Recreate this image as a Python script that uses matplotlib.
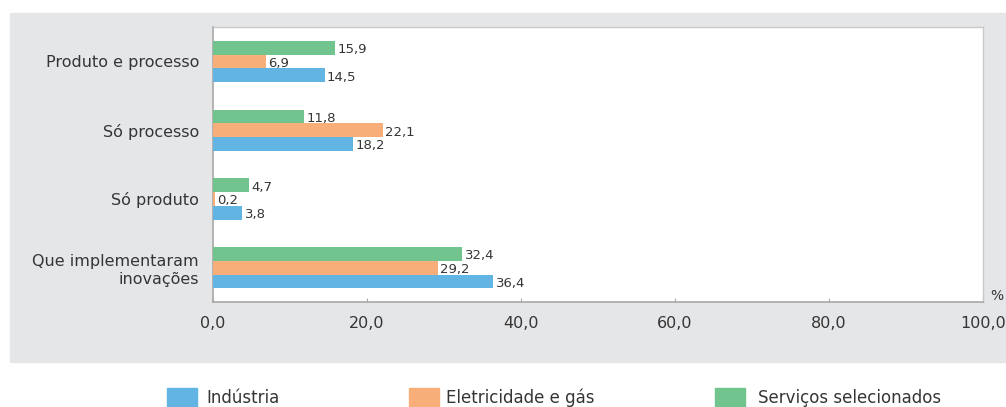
import numpy as np
import matplotlib
matplotlib.use("Agg")
import matplotlib.pyplot as plt
import matplotlib.patches as mpatches

plt.rcParams["font.family"] = ["DejaVu Sans"]

# ── Data ──────────────────────────────────────────────────────────────────────
categories = ["Produto e processo", "Só processo", "Só produto",
              "Que implementaram\ninovações"]
industria = [14.5, 18.2, 3.8, 36.4]
eletricidade = [6.9, 22.1, 0.2, 29.2]
servicos = [15.9, 11.8, 4.7, 32.4]
series_labels = ["Indústria", "Eletricidade e gás", "Serviços selecionados"]
xticks = [0, 20, 40, 60, 80, 100]

COLORS = {"ind": "#62b4e3", "ele": "#f8ae78", "ser": "#72c48e"}
TEXT = "#353535"
PANEL = "#e5e6e8"


def fmt(v):
    return f"{v:.1f}".replace(".", ",")


fig = plt.figure(figsize=(10.06, 4.07), dpi=100)
W, H = 1006, 407

# grey panel behind the chart
fig.patches.append(mpatches.Rectangle((10 / W, 1 - 362 / H), 1 - 10 / W, (362 - 13) / H,
                                      transform=fig.transFigure, color=PANEL, zorder=-10))

ax = fig.add_axes([213 / W, 1 - 302 / H, 770 / W, 275 / H])
ax.set_facecolor("white")

y = np.arange(len(categories))
h = 0.2
bars_ser = ax.barh(y - h, servicos, height=h, color=COLORS["ser"], zorder=3)
bars_ele = ax.barh(y, eletricidade, height=h, color=COLORS["ele"], zorder=3)
bars_ind = ax.barh(y + h, industria, height=h, color=COLORS["ind"], zorder=3)

for bars, vals in ((bars_ser, servicos), (bars_ele, eletricidade), (bars_ind, industria)):
    for bar, v in zip(bars, vals):
        ax.text(v + 0.3, bar.get_y() + bar.get_height() / 2 + 0.03, fmt(v),
                ha="left", va="center", fontsize=9.5, color=TEXT, zorder=4)

ax.set_xlim(0, 100)
ax.set_ylim(3.5, -0.5)
ax.set_yticks(y)
ax.set_yticklabels(categories, fontsize=11.5, color=TEXT, ha="right",
                   multialignment="right")
ax.set_xticks(xticks)
ax.set_xticklabels([fmt(t) for t in xticks], fontsize=11.5, color=TEXT)
ax.tick_params(axis="y", length=0, pad=10)
ax.tick_params(axis="x", direction="in", length=3, color="#aaaaaa", pad=10)

for side in ("left", "bottom"):
    ax.spines[side].set_color("#a8a8a8")
    ax.spines[side].set_linewidth(1.2)
for side in ("top", "right"):
    ax.spines[side].set_color("#c8c8c8")
    ax.spines[side].set_linewidth(1.0)

fig.text(990 / W, 1 - 296 / H, "%", fontsize=10, color=TEXT, va="center")

# legend row on white below the panel
leg_x = [167, 409, 715]
leg_gap = [9, 7, 13]
for key, lbl, x0, gap in zip(("ind", "ele", "ser"), series_labels, leg_x, leg_gap):
    fig.patches.append(mpatches.Rectangle((x0 / W, 0), 30 / W, 19 / H,
                                          transform=fig.transFigure,
                                          color=COLORS[key], zorder=1))
    fig.text((x0 + 30 + gap) / W, 1 - 398 / H, lbl, fontsize=12, color=TEXT, va="center")

fig.savefig("out.png", dpi=100)
